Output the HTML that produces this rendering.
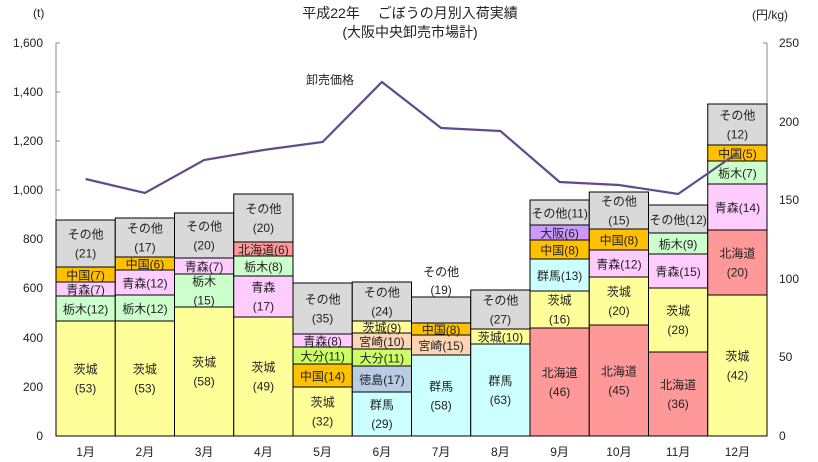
<!DOCTYPE html>
<html><head><meta charset="utf-8"><style>
body{margin:0;background:#fff}
svg{display:block;font-family:"Liberation Sans","Noto Sans CJK JP",sans-serif}
.s text{font-size:12px;fill:#222;text-anchor:middle}
.ax{font-size:12px;fill:#222}
</style></head><body>
<svg width="818" height="462" viewBox="0 0 818 462">
<text x="410" y="18" text-anchor="middle" font-size="14" fill="#222">平成22年　 ごぼうの月別入荷実績</text>
<text x="410" y="37" text-anchor="middle" font-size="14" fill="#222">(大阪中央卸売市場計)</text>
<text x="33" y="17" class="ax">(t)</text>
<text x="752" y="19" class="ax">(円/kg)</text>
<g class="ax" text-anchor="end">
<text x="43" y="47">1,600</text><text x="43" y="96">1,400</text><text x="43" y="145">1,200</text><text x="43" y="194">1,000</text><text x="43" y="243">800</text><text x="43" y="292">600</text><text x="43" y="342">400</text><text x="43" y="391">200</text><text x="43" y="440">0</text>
</g>
<g class="ax">
<text x="779" y="47">250</text><text x="779" y="126">200</text><text x="779" y="204">150</text><text x="779" y="283">100</text><text x="779" y="361">50</text><text x="779" y="440">0</text>
</g>
<g stroke="#888" stroke-width="1">
<line x1="56" y1="43" x2="56" y2="436"/><line x1="767" y1="43" x2="767" y2="436"/><line x1="56" y1="436" x2="767" y2="436"/>
<line x1="56" y1="43" x2="60" y2="43"/><line x1="56" y1="92" x2="60" y2="92"/><line x1="56" y1="141" x2="60" y2="141"/><line x1="56" y1="190" x2="60" y2="190"/><line x1="56" y1="239" x2="60" y2="239"/><line x1="56" y1="288" x2="60" y2="288"/><line x1="56" y1="338" x2="60" y2="338"/><line x1="56" y1="387" x2="60" y2="387"/>
<line x1="763" y1="43" x2="767" y2="43"/><line x1="763" y1="122" x2="767" y2="122"/><line x1="763" y1="200" x2="767" y2="200"/><line x1="763" y1="279" x2="767" y2="279"/><line x1="763" y1="357" x2="767" y2="357"/>
</g>
<g stroke="#000" stroke-width="1">
<!-- Jan -->
<rect x="56" y="321" width="59.25" height="115" fill="#ffff99"/>
<rect x="56" y="296" width="59.25" height="25" fill="#ccffcc"/>
<rect x="56" y="282" width="59.25" height="14" fill="#ffccff"/>
<rect x="56" y="267" width="59.25" height="15" fill="#ffc000"/>
<rect x="56" y="220" width="59.25" height="47" fill="#d9d9d9"/>
<!-- Feb -->
<rect x="115.25" y="321" width="59.25" height="115" fill="#ffff99"/>
<rect x="115.25" y="295" width="59.25" height="26" fill="#ccffcc"/>
<rect x="115.25" y="270" width="59.25" height="25" fill="#ffccff"/>
<rect x="115.25" y="257" width="59.25" height="13" fill="#ffc000"/>
<rect x="115.25" y="218" width="59.25" height="39" fill="#d9d9d9"/>
<!-- Mar -->
<rect x="174.5" y="307" width="59.25" height="129" fill="#ffff99"/>
<rect x="174.5" y="274" width="59.25" height="33" fill="#ccffcc"/>
<rect x="174.5" y="258" width="59.25" height="16" fill="#ffccff"/>
<rect x="174.5" y="213" width="59.25" height="45" fill="#d9d9d9"/>
<!-- Apr -->
<rect x="233.75" y="317" width="59.25" height="119" fill="#ffff99"/>
<rect x="233.75" y="276" width="59.25" height="41" fill="#ffccff"/>
<rect x="233.75" y="256" width="59.25" height="20" fill="#ccffcc"/>
<rect x="233.75" y="242" width="59.25" height="14" fill="#ff9999"/>
<rect x="233.75" y="194" width="59.25" height="48" fill="#d9d9d9"/>
<!-- May -->
<rect x="293" y="387" width="59.25" height="49" fill="#ffff99"/>
<rect x="293" y="364" width="59.25" height="23" fill="#ffc000"/>
<rect x="293" y="347" width="59.25" height="17" fill="#ccff66"/>
<rect x="293" y="334" width="59.25" height="13" fill="#ffccff"/>
<rect x="293" y="283" width="59.25" height="51" fill="#d9d9d9"/>
<!-- Jun -->
<rect x="352.25" y="392" width="59.25" height="44" fill="#ccffff"/>
<rect x="352.25" y="366" width="59.25" height="26" fill="#b8cce4"/>
<rect x="352.25" y="349" width="59.25" height="17" fill="#ccff66"/>
<rect x="352.25" y="333" width="59.25" height="16" fill="#fcd5b4"/>
<rect x="352.25" y="321" width="59.25" height="12" fill="#ffff99"/>
<rect x="352.25" y="282" width="59.25" height="39" fill="#d9d9d9"/>
<!-- Jul -->
<rect x="411.5" y="355" width="59.25" height="81" fill="#ccffff"/>
<rect x="411.5" y="335" width="59.25" height="20" fill="#fcd5b4"/>
<rect x="411.5" y="323" width="59.25" height="12" fill="#ffc000"/>
<rect x="411.5" y="297" width="59.25" height="26" fill="#d9d9d9"/>
<!-- Aug -->
<rect x="470.75" y="344" width="59.25" height="92" fill="#ccffff"/>
<rect x="470.75" y="329" width="59.25" height="15" fill="#ffff99"/>
<rect x="470.75" y="290" width="59.25" height="39" fill="#d9d9d9"/>
<!-- Sep -->
<rect x="530" y="328" width="59.25" height="108" fill="#ff9999"/>
<rect x="530" y="291" width="59.25" height="37" fill="#ffff99"/>
<rect x="530" y="259" width="59.25" height="32" fill="#ccffff"/>
<rect x="530" y="240" width="59.25" height="19" fill="#ffc000"/>
<rect x="530" y="225" width="59.25" height="15" fill="#cc99ff"/>
<rect x="530" y="200" width="59.25" height="25" fill="#d9d9d9"/>
<!-- Oct -->
<rect x="589.25" y="325" width="59.25" height="111" fill="#ff9999"/>
<rect x="589.25" y="277" width="59.25" height="48" fill="#ffff99"/>
<rect x="589.25" y="250" width="59.25" height="27" fill="#ffccff"/>
<rect x="589.25" y="229" width="59.25" height="21" fill="#ffc000"/>
<rect x="589.25" y="192" width="59.25" height="37" fill="#d9d9d9"/>
<!-- Nov -->
<rect x="648.5" y="352" width="59.25" height="84" fill="#ff9999"/>
<rect x="648.5" y="288" width="59.25" height="64" fill="#ffff99"/>
<rect x="648.5" y="254" width="59.25" height="34" fill="#ffccff"/>
<rect x="648.5" y="233" width="59.25" height="21" fill="#ccffcc"/>
<rect x="648.5" y="205" width="59.25" height="28" fill="#d9d9d9"/>
<!-- Dec -->
<rect x="707.75" y="295" width="59.25" height="141" fill="#ffff99"/>
<rect x="707.75" y="230" width="59.25" height="65" fill="#ff9999"/>
<rect x="707.75" y="184" width="59.25" height="46" fill="#ffccff"/>
<rect x="707.75" y="161" width="59.25" height="23" fill="#ccffcc"/>
<rect x="707.75" y="145" width="59.25" height="16" fill="#ffc000"/>
<rect x="707.75" y="104" width="59.25" height="41" fill="#d9d9d9"/>
</g>
<g class="s">
<text x="85.6" y="373.5">茨城</text><text x="85.6" y="392.5">(53)</text>
<text x="85.6" y="313.5">栃木(12)</text><text x="85.6" y="294">青森(7)</text><text x="85.6" y="279.5">中国(7)</text>
<text x="85.6" y="238.5">その他</text><text x="85.6" y="257.5">(21)</text>

<text x="144.9" y="373.5">茨城</text><text x="144.9" y="392.5">(53)</text>
<text x="144.9" y="313">栃木(12)</text><text x="144.9" y="287.5">青森(12)</text><text x="144.9" y="268.5">中国(6)</text>
<text x="144.9" y="232.5">その他</text><text x="144.9" y="251.5">(17)</text>

<text x="204.1" y="366.5">茨城</text><text x="204.1" y="385.5">(58)</text>
<text x="204.1" y="285.5">栃木</text><text x="204.1" y="304.5">(15)</text>
<text x="204.1" y="271">青森(7)</text>
<text x="204.1" y="230.5">その他</text><text x="204.1" y="249.5">(20)</text>

<text x="263.4" y="371.5">茨城</text><text x="263.4" y="390.5">(49)</text>
<text x="263.4" y="291.5">青森</text><text x="263.4" y="310.5">(17)</text>
<text x="263.4" y="271">栃木(8)</text><text x="263.4" y="254">北海道(6)</text>
<text x="263.4" y="213">その他</text><text x="263.4" y="232">(20)</text>

<text x="322.6" y="406.5">茨城</text><text x="322.6" y="425.5">(32)</text>
<text x="322.6" y="380.5">中国(14)</text><text x="322.6" y="360.5">大分(11)</text><text x="322.6" y="345.5">青森(8)</text>
<text x="322.6" y="303.5">その他</text><text x="322.6" y="322.5">(35)</text>

<text x="381.9" y="409">群馬</text><text x="381.9" y="428">(29)</text>
<text x="381.9" y="384">徳島(17)</text><text x="381.9" y="362.5">大分(11)</text><text x="381.9" y="346">宮崎(10)</text><text x="381.9" y="332">茨城(9)</text>
<text x="381.9" y="296.5">その他</text><text x="381.9" y="315.5">(24)</text>

<text x="441.1" y="390.5">群馬</text><text x="441.1" y="409.5">(58)</text>
<text x="441.1" y="350">宮崎(15)</text><text x="441.1" y="334">中国(8)</text>
<text x="441.1" y="276">その他</text><text x="441.1" y="294">(19)</text>

<text x="500.4" y="385">群馬</text><text x="500.4" y="404">(63)</text>
<text x="500.4" y="341.5">茨城(10)</text>
<text x="500.4" y="304.5">その他</text><text x="500.4" y="323.5">(27)</text>

<text x="559.6" y="377">北海道</text><text x="559.6" y="396">(46)</text>
<text x="559.6" y="304.5">茨城</text><text x="559.6" y="323.5">(16)</text>
<text x="559.6" y="280">群馬(13)</text><text x="559.6" y="254.5">中国(8)</text><text x="559.6" y="237.5">大阪(6)</text><text x="559.6" y="217.5">その他(11)</text>

<text x="618.9" y="375.5">北海道</text><text x="618.9" y="394.5">(45)</text>
<text x="618.9" y="296">茨城</text><text x="618.9" y="315">(20)</text>
<text x="618.9" y="268.5">青森(12)</text><text x="618.9" y="244.5">中国(8)</text>
<text x="618.9" y="205.5">その他</text><text x="618.9" y="224.5">(15)</text>

<text x="678.1" y="389">北海道</text><text x="678.1" y="408">(36)</text>
<text x="678.1" y="315">茨城</text><text x="678.1" y="334">(28)</text>
<text x="678.1" y="276">青森(15)</text><text x="678.1" y="248.5">栃木(9)</text><text x="678.1" y="224">その他(12)</text>

<text x="737.4" y="360.5">茨城</text><text x="737.4" y="379.5">(42)</text>
<text x="737.4" y="257.5">北海道</text><text x="737.4" y="276.5">(20)</text>
<text x="737.4" y="212">青森(14)</text><text x="737.4" y="177.5">栃木(7)</text><text x="737.4" y="158">中国(5)</text>
<text x="737.4" y="119.5">その他</text><text x="737.4" y="138.5">(12)</text>
</g>
<polyline fill="none" stroke="#5f4b8b" stroke-width="2.2" points="85.6,179 144.9,193 204.1,160 263.4,150 322.6,142 381.9,82 441.1,128 500.4,131 559.6,182 618.9,185 678.1,194 737.4,153"/>
<text x="330" y="84" text-anchor="middle" font-size="12" fill="#222">卸売価格</text>
<g class="ax" text-anchor="middle">
<text x="85.6" y="456">1月</text><text x="144.9" y="456">2月</text><text x="204.1" y="456">3月</text><text x="263.4" y="456">4月</text><text x="322.6" y="456">5月</text><text x="381.9" y="456">6月</text><text x="441.1" y="456">7月</text><text x="500.4" y="456">8月</text><text x="559.6" y="456">9月</text><text x="618.9" y="456">10月</text><text x="678.1" y="456">11月</text><text x="737.4" y="456">12月</text>
</g>
</svg>
</body></html>
